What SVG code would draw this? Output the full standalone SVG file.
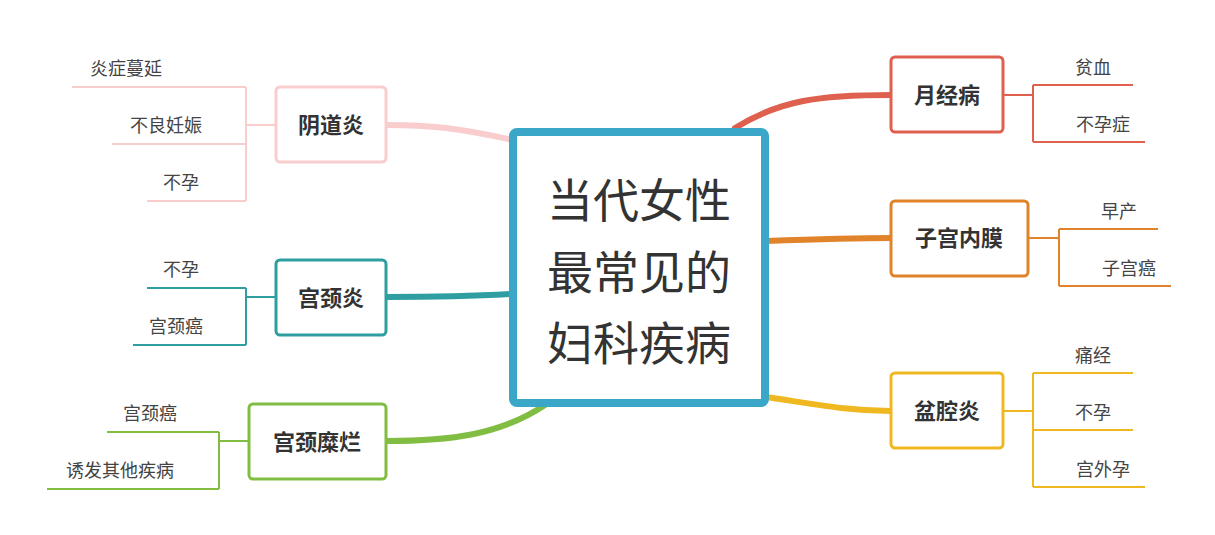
<svg xmlns="http://www.w3.org/2000/svg" width="1215" height="535" viewBox="0 0 1215 535">
<style>
text{font-family:"Noto Sans CJK SC","Noto Sans",sans-serif;fill:#333}
.n{fill:#fff;stroke-width:3}
.lb{font-size:22px;font-weight:bold;text-anchor:middle}
.lf{font-size:18px;text-anchor:middle;fill:#444}
.br{fill:none;stroke-width:6;stroke-linecap:round}
.lk{fill:none;stroke-width:2}
</style>
<rect width="1215" height="535" fill="#fff"/>
<g id="connectors">
<path class="br" d="M735,128 C780,100 820,95 891,95" stroke="#e0604f"/>
<path class="br" d="M766,241 C820,239 850,238 891,238" stroke="#e0832a"/>
<path class="br" d="M766,397 C820,405 850,411 891,411" stroke="#f0b820"/>
<path class="br" d="M512,140 C460,128 430,125 386,125" stroke="#f9cdcd"/>
<path class="br" d="M512,294 C460,297 430,297 386,297" stroke="#2e9ea0"/>
<path class="br" d="M545,405 C500,435 450,441 386,441" stroke="#80bd42"/>
<g stroke="#e0604f" class="lk"><path d="M1003,95H1033M1033,85V142M1033,85H1133M1033,142H1145"/></g>
<g stroke="#e0832a" class="lk"><path d="M1028,238H1059M1059,229V286M1059,229H1158M1059,286H1171"/></g>
<g stroke="#f0b820" class="lk"><path d="M1003,411H1033M1033,373V487M1033,373H1133M1033,430H1133M1033,487H1145"/></g>
<g stroke="#f9cdcd" class="lk"><path d="M276,125H246M246,87V201M246,87H72M246,144H112M246,201H147"/></g>
<g stroke="#2e9ea0" class="lk"><path d="M276,297H246M246,288V345M246,288H147M246,345H133"/></g>
<g stroke="#80bd42" class="lk"><path d="M249,441H219M219,432V489M219,432H107M219,489H47"/></g>
</g>
<g id="center">
<rect x="513" y="132" width="252" height="271" rx="4" fill="#fff" stroke="#3aa6c8" stroke-width="8"/>
<text x="639" y="217" font-size="46" text-anchor="middle">当代女性</text>
<text x="639" y="289" font-size="46" text-anchor="middle">最常见的</text>
<text x="639" y="360" font-size="46" text-anchor="middle">妇科疾病</text>
</g>
<g id="n1"><rect class="n" x="891" y="57" width="112" height="75" rx="4" stroke="#e0604f"/><text class="lb" x="947" y="103">月经病</text>
<text class="lf" x="1093" y="74">贫血</text><text class="lf" x="1103" y="131">不孕症</text></g>
<g id="n2"><rect class="n" x="891" y="201" width="137" height="75" rx="4" stroke="#e0832a"/><text class="lb" x="959" y="246">子宫内膜</text>
<text class="lf" x="1119" y="218">早产</text><text class="lf" x="1129" y="275">子宫癌</text></g>
<g id="n3"><rect class="n" x="891" y="373" width="112" height="75" rx="4" stroke="#f0b820"/><text class="lb" x="947" y="419">盆腔炎</text>
<text class="lf" x="1093" y="362">痛经</text><text class="lf" x="1093" y="419">不孕</text><text class="lf" x="1103" y="476">宫外孕</text></g>
<g id="n4"><rect class="n" x="276" y="87" width="110" height="75" rx="4" stroke="#f9cdcd"/><text class="lb" x="331" y="133">阴道炎</text>
<text class="lf" x="126" y="75">炎症蔓延</text><text class="lf" x="166" y="132">不良妊娠</text><text class="lf" x="181" y="189">不孕</text></g>
<g id="n5"><rect class="n" x="276" y="260" width="110" height="75" rx="4" stroke="#2e9ea0"/><text class="lb" x="331" y="306">宫颈炎</text>
<text class="lf" x="181" y="276">不孕</text><text class="lf" x="176" y="333">宫颈癌</text></g>
<g id="n6"><rect class="n" x="249" y="404" width="137" height="75" rx="4" stroke="#80bd42"/><text class="lb" x="317" y="450">宫颈糜烂</text>
<text class="lf" x="150" y="420">宫颈癌</text><text class="lf" x="120" y="477">诱发其他疾病</text></g>
</svg>
